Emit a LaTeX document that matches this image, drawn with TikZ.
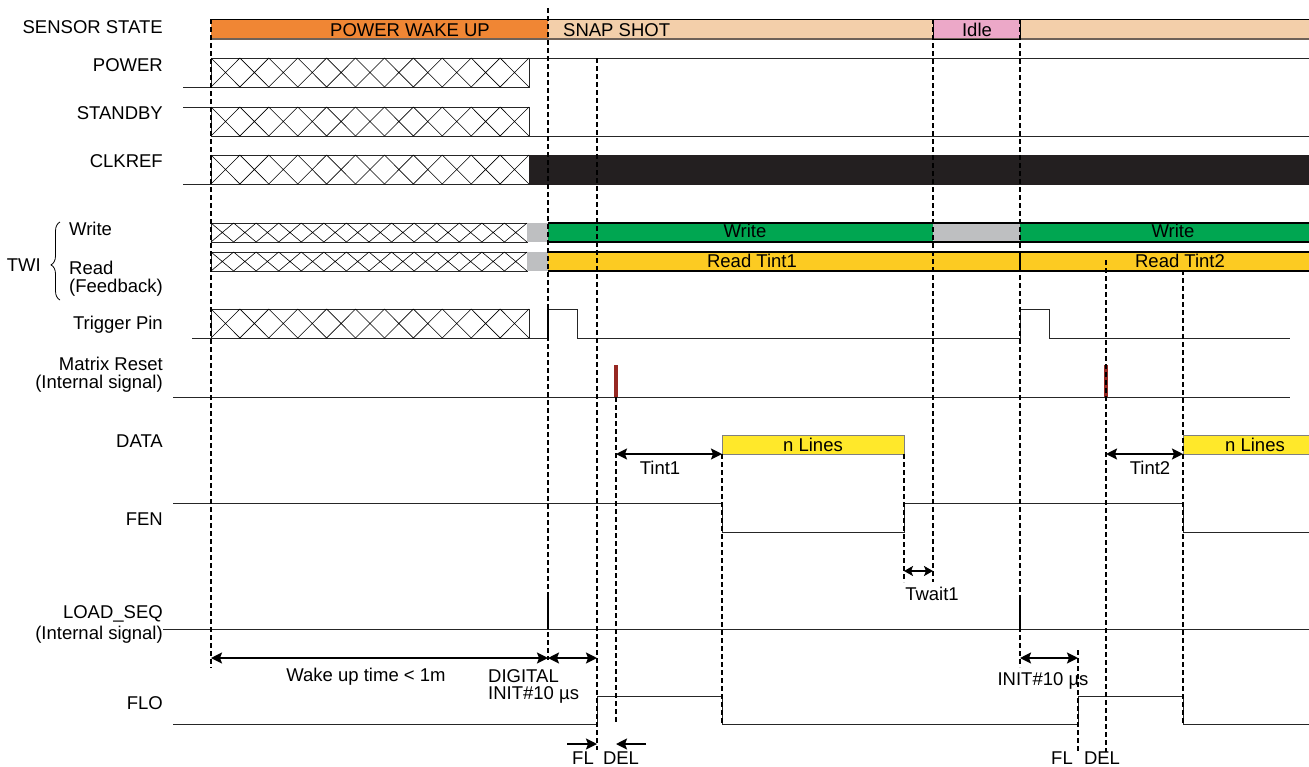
\documentclass[tikz,border=0pt]{standalone}
\usepackage{fontspec}
\setmainfont{Liberation Sans}
\usetikzlibrary{calc}
\usetikzlibrary{arrows.meta}
\usetikzlibrary{decorations.pathreplacing}
\definecolor{wakecolor}{RGB}{240,134,52}
\definecolor{snapcolor}{RGB}{243,207,170}
\definecolor{idlecolor}{RGB}{236,168,200}
\definecolor{writecolor}{RGB}{0,166,81}
\definecolor{readcolor}{RGB}{252,203,34}
\definecolor{linescolor}{RGB}{255,232,42}
\definecolor{busgray}{RGB}{190,191,193}
\definecolor{resetcolor}{RGB}{150,40,34}
\definecolor{clkcolor}{RGB}{35,31,32}
\definecolor{barline}{RGB}{110,98,89}

% crossed box: x0, x1, top, bottom, cells
\newcommand{\hatchbox}[5]{%
  \draw[sig] (#1,#3) rectangle (#2,#4);
  \foreach \i in {1,...,#5} {
    \draw[line width=0.6pt] ({#1+(\i-1)*(#2-#1)/#5},#3) -- ({#1+\i*(#2-#1)/#5},#4)
                            ({#1+(\i-1)*(#2-#1)/#5},#4) -- ({#1+\i*(#2-#1)/#5},#3);
  }%
}

\begin{document}
\begin{tikzpicture}[x=1pt,y=-1pt,
    txt/.style={font=\fontsize{18.5}{20}\selectfont,inner sep=0pt},
    sig/.style={line width=0.9pt,black!85},
    guide/.style={line width=1.2pt,dash pattern=on 5pt off 3pt},
    span/.style={{Stealth[length=11pt,width=11pt,inset=2pt]}-{Stealth[length=11pt,width=11pt,inset=2pt]},line width=2pt},
    bus/.style={line width=1.8pt}]
    \useasboundingbox (0,0) rectangle (1309,766);

    % signal names
    \foreach \nm/\y/\lab in {state/27/SENSOR STATE, power/65/POWER, standby/113/STANDBY,
            clkref/161/CLKREF, trigger/325/Trigger Pin, reset/364/Matrix Reset,
            resetsub/384/(Internal signal), data/441/DATA, fen/519/FEN,
            load/614/LOAD\_SEQ, loadsub/635/(Internal signal), flo/703/FLO} {
            \node[txt,anchor=east] (lbl\nm) at (163,\y) {\lab};
        }
    \node[txt,anchor=west] (lblwrite) at (69,229) {Write};
    \node[txt,anchor=west] (lblread) at (69,268) {Read};
    \node[txt,anchor=west] (lblfeed) at (69,288) {(Feedback)};
    \node[txt,anchor=east] (lbltwi) at (41,265) {TWI};
    \draw[line width=0.8pt,decorate,decoration={brace,amplitude=9pt,aspect=0.45}]
        (60,300) -- (60,222);

    % sensor state
    \fill[wakecolor] (211,19) rectangle (548,39);
    \fill[snapcolor] (548,19) rectangle (1309,39);
    \fill[idlecolor] (933,19) rectangle (1020,39);
    \draw[line width=0.8pt] (211,19) -- (1309,19);
    \draw[barline,line width=2.2pt] (211,39) -- (1309,39);
    \draw[line width=0.8pt] (933,19) rectangle (1020,39);
    \node[txt] (wake) at (410,30) {POWER WAKE UP};
    \node[txt,anchor=west] (snap) at (563,30) {SNAP SHOT};
    \node[txt] (idle) at (977,30) {Idle};

    % POWER, STANDBY, CLKREF
    \draw[sig] (183,87) -- (211,87);
    \hatchbox{211}{529}{58}{87}{11}
    \draw[sig] (529,58) -- (1309,58);
    \draw[sig] (183,107) -- (211,107);
    \hatchbox{211}{529}{107}{136}{11}
    \draw[sig] (529,136) -- (1309,136);
    \draw[sig] (183,184) -- (211,184);
    \hatchbox{211}{529}{155}{184}{11}
    \fill[clkcolor] (529,155) rectangle (1309,185);

    % TWI write
    \hatchbox{211}{527}{223}{242}{14}
    \fill[busgray] (527,223) rectangle (548,242);
    \fill[writecolor] (548,223) rectangle (933,242);
    \fill[busgray] (933,223) rectangle (1020,242);
    \fill[writecolor] (1020,223) rectangle (1309,242);
    \draw[bus] (548,223) -- (1309,223) (548,242) -- (1309,242);
    \node[txt] (write1) at (745,231) {Write};
    \node[txt] (write2) at (1173,231) {Write};

    % TWI read
    \hatchbox{211}{527}{252}{271}{14}
    \fill[busgray] (527,252) rectangle (548,271);
    \fill[readcolor] (548,252) rectangle (1309,271);
    \draw[bus] (548,252) -- (1309,252) (548,271) -- (1309,271);
    \draw[line width=1.2pt] (1020,252) -- (1020,271);
    \node[txt] (read1) at (752,261) {Read Tint1};
    \node[txt] (read2) at (1180,261) {Read Tint2};

    % Trigger pin
    \draw[sig] (192,338) -- (211,338);
    \hatchbox{211}{529}{309}{338}{11}
    \draw[sig] (529,338) -- (548,338) -- (548,309) -- (577,309) -- (577,338)
        -- (1020,338) -- (1020,309) -- (1049,309) -- (1049,338) -- (1290,338);
    \draw[line width=1.6pt] (548,338) -- (548,309);

    % Matrix reset
    \draw[sig] (173,397) -- (1290,397);
    \fill[resetcolor] (614,365) rectangle (618,397);
    \fill[resetcolor] (1104,365) rectangle (1108,397);

    % DATA
    \draw[fill=linescolor,draw=black!50,line width=0.9pt] (722,435) rectangle (904,454);
    \fill[linescolor] (1183,435) rectangle (1309,454);
    \draw[black!50,line width=0.9pt] (1309,435) -- (1183,435) -- (1183,454) -- (1309,454);
    \node[txt] (lines1) at (813,445) {n Lines};
    \node[txt] (lines2) at (1255,445) {n Lines};

    % FEN, LOAD_SEQ, FLO
    \draw[sig] (173,503) -- (722,503) -- (722,532) -- (904,532) -- (904,503)
        -- (1183,503) -- (1183,532) -- (1309,532);
    \draw[sig] (163,629) -- (1309,629);
    \draw[line width=1.4pt] (548,597) -- (548,629);
    \draw[line width=1.4pt] (1020,597) -- (1020,629);
    \draw[sig] (173,724) -- (597,724) -- (597,696) -- (722,696) -- (722,724)
        -- (1078,724) -- (1078,696) -- (1183,696) -- (1183,724) -- (1309,724);

    % timing guides
    \foreach \x/\ya/\yb in {211/19/668, 548/8/660, 597/58/750, 616/397/724,
            722/454/724, 904/454/582, 933/19/582, 1020/19/667, 1078/650/752,
            1106/260/752, 1183/270/724} {
            \draw[guide] (\x,\ya) -- (\x,\yb);
        }

    % intervals
    \coordinate (wakeA) at (211,658);
    \coordinate (wakeB) at (548,658);
    \coordinate (initB) at (597,658);
    \coordinate (initC) at (1020,658);
    \coordinate (initD) at (1078,658);
    \coordinate (tintA) at (616,454);
    \coordinate (tintB) at (722,454);
    \coordinate (tintC) at (1106,454);
    \coordinate (tintD) at (1183,454);
    \coordinate (waitA) at (904,571);
    \coordinate (waitB) at (933,571);
    \coordinate (flA) at (567,744);
    \coordinate (flB) at (597,744);
    \coordinate (delA) at (646,744);
    \coordinate (delB) at (616,744);
    \draw[span] (wakeA) -- (wakeB);
    \draw[span] (wakeB) -- (initB);
    \draw[span] (initC) -- (initD);
    \draw[span] (tintA) -- (tintB);
    \draw[span] (tintC) -- (tintD);
    \draw[{Stealth[length=9pt,width=10pt,inset=2pt]}-{Stealth[length=9pt,width=10pt,inset=2pt]},line width=2pt] (waitA) -- (waitB);
    \draw[-{Stealth[length=11pt,width=11pt,inset=2pt]},line width=2pt] (flA) -- (flB);
    \draw[-{Stealth[length=11pt,width=11pt,inset=2pt]},line width=2pt] (delA) -- (delB);

    \node[txt] (wakelab) at (366,677) {Wake up time < 1m};
    \node[txt,anchor=west] (diglab) at (488,676) {DIGITAL};
    \node[txt,anchor=west] (initlab) at (488,695) {INIT\#10 µs};
    \node[txt] (init2lab) at (1043,681) {INIT\#10 µs};
    \node[txt] (tint1lab) at (660,468) {Tint1};
    \node[txt] (tint2lab) at (1150,468) {Tint2};
    \node[txt] (waitlab) at (932,594) {Twait1};
    \node[txt] (fl1) at (583,758) {FL};
    \node[txt] (del1) at (621,758) {DEL};
    \node[txt] (fl2) at (1062,758) {FL};
    \node[txt] (del2) at (1102,758) {DEL};
\end{tikzpicture}
\end{document}
